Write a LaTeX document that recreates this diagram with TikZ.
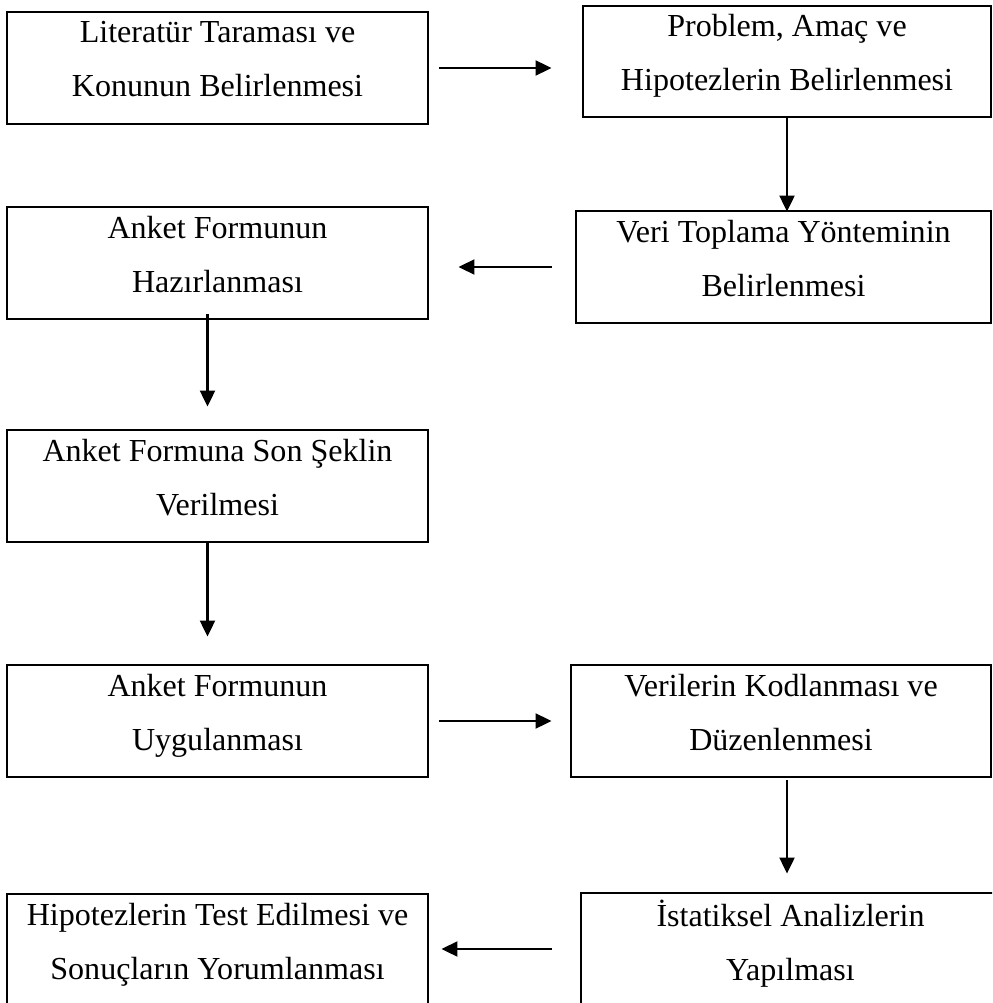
\documentclass[tikz,border=0pt]{standalone}
\usepackage{fontspec}
\setmainfont{Liberation Serif}
\usepackage{tikz}
\usetikzlibrary{arrows.meta}

\begin{document}
\begin{tikzpicture}[x = 0.025cm, y = -0.025cm,
            kutu/.style = {draw, line width = 2pt, inner sep = 0pt, align = center,
                minimum width = 10.525cm, minimum height = 2.8cm,
                font = \fontsize{22.8}{38.4}\selectfont,
                execute at begin node = {\rule{0pt}{1cm}},
                execute at end node = {\rule[-0.45cm]{0pt}{0pt}}},
            ok/.style = {line width = 1.5pt, -{Triangle[length = 0.4cm, width = 0.375cm]}}]
            \useasboundingbox (0,0) rectangle (992,1003);
            \clip (0,0) rectangle (992,1003);
            \node[kutu] (lit) at (217.5,68) {Literatür Taraması ve\\Konunun Belirlenmesi};
            \node[kutu, minimum width = 10.2cm, minimum height = 2.775cm] (prob) at (787,61.5) {Problem, Amaç ve\\Hipotezlerin Belirlenmesi};
            \node[kutu] (hazir) at (217.5,263) {Anket Formunun\\Hazırlanması};
            \node[kutu, minimum width = 10.375cm] (veri) at (783.5,267) {Veri Toplama Yönteminin\\Belirlenmesi};
            \node[kutu] (son) at (217.5,486) {Anket Formuna Son Şeklin\\Verilmesi};
            \node[kutu] (uyg) at (217.5,721) {Anket Formunun\\Uygulanması};
            \node[kutu, minimum width = 10.5cm] (kod) at (781,721) {Verilerin Kodlanması ve\\Düzenlenmesi};
            \node[kutu, minimum width = 10.475cm] (istat) at (790.5,949) {İstatiksel Analizlerin\\Yapılması};
            \node[kutu] (hipo) at (217.5,950) {Hipotezlerin Test Edilmesi ve\\Sonuçların Yorumlanması};
            \draw[ok, shorten <= 0.25cm, shorten >= 0.75cm] (lit.east) -- (lit.east -| prob.west);
            \draw[ok, shorten >= -0.05cm] (prob.south) -- (prob.south |- veri.north);
            \draw[ok, shorten <= 0.575cm, shorten >= 0.725cm] (veri.west) -- (veri.west -| hazir.east);
            \draw[ok] ([xshift = -0.25cm, yshift = 0.15cm]hazir.south) -- ([xshift = -0.25cm, yshift = 0.55cm]son.north);
            \draw[ok] ([xshift = -0.25cm]son.south) -- ([xshift = -0.25cm, yshift = 0.675cm]uyg.north);
            \draw[ok, shorten <= 0.25cm, shorten >= 0.45cm] (uyg.east) -- (kod.west);
            \draw[ok, shorten <= 0.05cm, shorten >= 0.45cm] ([xshift = 0.15cm]kod.south) -- ([xshift = 0.15cm]kod.south |- istat.north);
            \draw[ok, shorten <= 0.7cm, shorten >= 0.3cm] (istat.west) -- (istat.west -| hipo.east);
        \end{tikzpicture}
\end{document}
